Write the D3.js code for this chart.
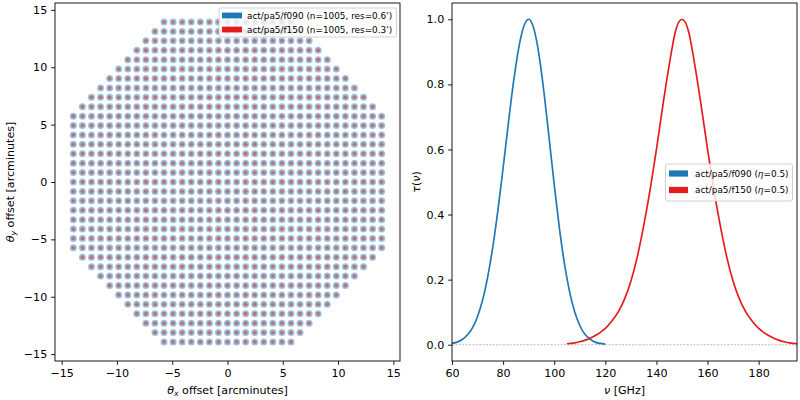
<!DOCTYPE html>
<html><head><meta charset="utf-8">
<script src="https://cdn.jsdelivr.net/npm/d3@7"></script>
<style>
body{margin:0;background:#fff}
svg{font-family:"DejaVu Sans",sans-serif}
</style>
</head><body>
<svg id="c" width="800" height="400"></svg>
<script>
// ---------------- data ----------------
const gridStep = 0.82; // detector spacing [arcmin]
const rowIndex = [-17,-16,-15,-14,-13,-12,-11,-10,-9,-8,-7,-6,-5,-4,-3,-2,-1,0,1,2,3,4,5,6,7,8,9,10,11,12,13,14,15,16,17];
const rowHalfCount = [7,8,9,10,11,12,13,14,15,16,17,17,17,17,17,17,17,17,17,17,17,17,17,17,17,16,15,14,13,12,11,10,9,8,7];
const bandNames = ["act/pa5/f090", "act/pa5/f150"];
const bandCounts = [1005, 1005];
const bandRes = ["0.6'", "0.3'"];
const bandEta = ["0.5", "0.5"];
const bandColors = ["#1f77b4", "#e41a1c"];

const freqBlue = [60,62,64,66,68,70,72,74,76,78,80,82,84,86,88,90,92,94,96,98,100,102,104,106,108,110,112,114,116,118,120];
const tauBlue  = [0.004,0.008,0.016,0.030,0.052,0.087,0.138,0.210,0.302,0.415,0.543,0.677,0.803,0.907,0.976,1.0,0.972,0.893,0.775,0.635,0.492,0.360,0.249,0.163,0.101,0.059,0.032,0.017,0.008,0.004,0.002];
const freqRed = [105,107.5,110,112.5,115,117.5,120,122.5,125,127.5,130,132.5,135,137.5,140,142.5,145,147.5,150,152.5,155,157.5,160,162.5,165,167.5,170,172.5,175,177.5,180,182.5,185,187.5,190,192.5,195];
const tauRed  = [0.003,0.005,0.009,0.015,0.024,0.035,0.050,0.072,0.100,0.140,0.195,0.270,0.365,0.475,0.600,0.735,0.860,0.965,1.0,0.965,0.860,0.735,0.600,0.475,0.365,0.270,0.195,0.140,0.100,0.072,0.050,0.035,0.024,0.015,0.009,0.005,0.003];

const xTicksL = [-15,-10,-5,0,5,10,15];
const yTicksL = [-15,-10,-5,0,5,10,15];
const xTicksR = [60,80,100,120,140,160,180];
const yTicksR = [0.0,0.2,0.4,0.6,0.8,1.0];

// ---------------- layout ----------------
const svg = d3.select("#c");
const FS = 11.1, LFS = 8.9, TL = 3.9, TP = 3.9;
const L = {x0:55, x1:400, y0:3, y1:361};
const R = {x0:452, x1:797, y0:3, y1:361};

const xL = d3.scaleLinear().domain([-15.6,15.6]).range([L.x0,L.x1]);
const yL = d3.scaleLinear().domain([-15.6,15.6]).range([L.y1,L.y0]);
const xR = d3.scaleLinear().domain([60,195]).range([R.x0,R.x1]);
const yR = d3.scaleLinear().domain([-0.05,1.05]).range([R.y1,R.y0]);

function styleAxis(g){
  g.selectAll("path").remove();
  g.selectAll("line").attr("stroke","#000").attr("stroke-width",0.9);
  g.selectAll("text").attr("font-size",FS).attr("fill","#000").attr("font-family","DejaVu Sans");
}

// ---------------- left panel ----------------
const points = [];
rowIndex.forEach((l,i)=>{
  const h = rowHalfCount[i];
  for(let k=-h;k<=h;k++) points.push([k*gridStep, l*gridStep]);
});

const gL = svg.append("g");
gL.append("g").selectAll("circle").data(points).join("circle")
  .attr("cx",d=>xL(d[0])).attr("cy",d=>yL(d[1])).attr("r",3.5)
  .attr("fill",bandColors[0]).attr("fill-opacity",0.45);
gL.append("g").selectAll("circle").data(points).join("circle")
  .attr("cx",d=>xL(d[0])).attr("cy",d=>yL(d[1])).attr("r",1.9)
  .attr("fill",bandColors[1]).attr("fill-opacity",0.5);

gL.append("g").attr("transform",`translate(0,${L.y1})`)
  .call(d3.axisBottom(xL).tickValues(xTicksL).tickSize(TL).tickPadding(TP).tickSizeOuter(0)).call(styleAxis);
gL.append("g").attr("transform",`translate(${L.x0},0)`)
  .call(d3.axisLeft(yL).tickValues(yTicksL).tickSize(TL).tickPadding(TP).tickSizeOuter(0)).call(styleAxis);
gL.append("rect").attr("x",L.x0).attr("y",L.y0).attr("width",L.x1-L.x0).attr("height",L.y1-L.y0)
  .attr("fill","none").attr("stroke","#000").attr("stroke-width",0.9);

// x label
const xlabL = gL.append("text").attr("x",(L.x0+L.x1)/2).attr("y",394).attr("text-anchor","middle").attr("font-size",FS);
xlabL.append("tspan").attr("font-style","italic").text("θ");
xlabL.append("tspan").attr("font-style","italic").attr("font-size",FS*0.7).attr("dy",2.3).text("x");
xlabL.append("tspan").attr("dy",-2.3).text(" offset [arcminutes]");
// y label
const ylabL = gL.append("text").attr("transform",`translate(14,${(L.y0+L.y1)/2}) rotate(-90)`).attr("text-anchor","middle").attr("font-size",FS);
ylabL.append("tspan").attr("font-style","italic").text("θ");
ylabL.append("tspan").attr("font-style","italic").attr("font-size",FS*0.7).attr("dy",2.3).text("y");
ylabL.append("tspan").attr("dy",-2.3).text(" offset [arcminutes]");

// legend left
const legL = gL.append("g");
legL.append("rect").attr("x",219).attr("y",8).attr("width",177.5).attr("height",29).attr("rx",2)
  .attr("fill","#fff").attr("fill-opacity",0.8).attr("stroke","#cccccc").attr("stroke-width",0.9);
bandNames.forEach((nm,i)=>{
  const cy = 15.5 + i*14;
  legL.append("rect").attr("x",222).attr("y",cy-2.9).attr("width",20).attr("height",5.8).attr("fill",bandColors[i]);
  legL.append("text").attr("x",247).attr("y",cy+3.2).attr("font-size",LFS)
    .text(`${nm} (n=${bandCounts[i]}, res=${bandRes[i]})`);
});

// ---------------- right panel ----------------
const gR = svg.append("g");
svg.append("defs").append("clipPath").attr("id","clipR").append("rect")
  .attr("x",R.x0).attr("y",R.y0).attr("width",R.x1-R.x0).attr("height",R.y1-R.y0);

gR.append("line").attr("x1",R.x0).attr("x2",R.x1).attr("y1",yR(0)).attr("y2",yR(0))
  .attr("stroke","#8c8c8c").attr("stroke-width",0.6).attr("stroke-dasharray","2,1.4");

const line = d3.line().x(d=>xR(d[0])).y(d=>yR(d[1])).curve(d3.curveMonotoneX);
const curves = [freqBlue.map((f,i)=>[f,tauBlue[i]]), freqRed.map((f,i)=>[f,tauRed[i]])];
gR.append("g").attr("clip-path","url(#clipR)").selectAll("path").data(curves).join("path")
  .attr("d",line).attr("fill","none").attr("stroke",(d,i)=>bandColors[i]).attr("stroke-width",1.67);

gR.append("g").attr("transform",`translate(0,${R.y1})`)
  .call(d3.axisBottom(xR).tickValues(xTicksR).tickSize(TL).tickPadding(TP).tickSizeOuter(0)).call(styleAxis);
gR.append("g").attr("transform",`translate(${R.x0},0)`)
  .call(d3.axisLeft(yR).tickValues(yTicksR).tickFormat(d3.format(".1f")).tickSize(TL).tickPadding(TP).tickSizeOuter(0)).call(styleAxis);
gR.append("rect").attr("x",R.x0).attr("y",R.y0).attr("width",R.x1-R.x0).attr("height",R.y1-R.y0)
  .attr("fill","none").attr("stroke","#000").attr("stroke-width",0.9);

const xlabR = gR.append("text").attr("x",(R.x0+R.x1)/2).attr("y",393.5).attr("text-anchor","middle").attr("font-size",FS);
xlabR.append("tspan").attr("font-style","italic").text("ν");
xlabR.append("tspan").text(" [GHz]");
const ylabR = gR.append("text").attr("transform",`translate(419.5,${(R.y0+R.y1)/2}) rotate(-90)`).attr("text-anchor","middle").attr("font-size",FS);
ylabR.append("tspan").attr("font-style","italic").text("τ");
ylabR.append("tspan").text("(");
ylabR.append("tspan").attr("font-style","italic").text("ν");
ylabR.append("tspan").text(")");

const legR = gR.append("g");
legR.append("rect").attr("x",665.5).attr("y",164).attr("width",127).attr("height",37).attr("rx",2)
  .attr("fill","#fff").attr("fill-opacity",0.8).attr("stroke","#cccccc").attr("stroke-width",0.9);
bandNames.forEach((nm,i)=>{
  const cy = 173.5 + i*16.5;
  legR.append("rect").attr("x",669).attr("y",cy-3.1).attr("width",19).attr("height",6.2).attr("fill",bandColors[i]);
  const t = legR.append("text").attr("x",695).attr("y",cy+3.2).attr("font-size",LFS);
  t.append("tspan").text(`${nm} (`);
  t.append("tspan").attr("font-style","italic").text("η");
  t.append("tspan").text(`=${bandEta[i]})`);
});
</script>
</body></html>
